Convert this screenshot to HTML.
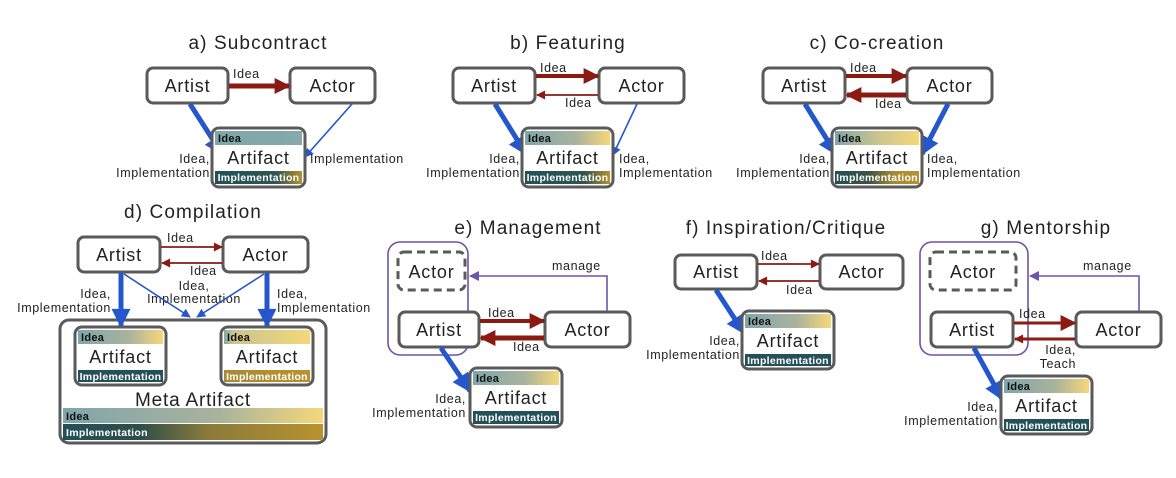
<!DOCTYPE html>
<html><head><meta charset="utf-8"><style>
html,body{margin:0;padding:0;background:#fff;}
svg{display:block;font-family:"Liberation Sans",sans-serif;}
.node{fill:#fff;stroke:#5a5a5a;stroke-width:3;}
.t{font-size:19px;fill:#222;letter-spacing:1.1px;}
.n{font-size:18px;fill:#222;text-anchor:middle;letter-spacing:0.8px;}
.s{font-size:12.5px;fill:#222;letter-spacing:0.6px;}
.ib{font-size:11px;font-weight:bold;fill:#111;letter-spacing:0.3px;}
.mb{font-size:10.5px;font-weight:bold;fill:#fff;text-anchor:middle;letter-spacing:0.3px;}
.r{stroke:#8b1a12;fill:none;}
.b{stroke:#2456cc;fill:none;}
.p{stroke:#6a55a8;fill:none;stroke-width:1.6;}
</style></head><body>
<svg width="1176" height="478" viewBox="0 0 1176 478">
<defs>
<linearGradient id="iA"><stop offset="0" stop-color="#7fa6ab"/><stop offset="1" stop-color="#86a9aa"/></linearGradient>
<linearGradient id="iB"><stop offset="0" stop-color="#7fa6ab"/><stop offset="0.6" stop-color="#a9b39c"/><stop offset="1" stop-color="#f5d77a"/></linearGradient>
<linearGradient id="iC"><stop offset="0" stop-color="#7fa6ab"/><stop offset="0.5" stop-color="#c9c48e"/><stop offset="1" stop-color="#f5d77a"/></linearGradient>
<linearGradient id="iD"><stop offset="0" stop-color="#7fa6ab"/><stop offset="0.1" stop-color="#c9c48e"/><stop offset="1" stop-color="#f5d77a"/></linearGradient>
<linearGradient id="mA"><stop offset="0" stop-color="#24505a"/><stop offset="0.7" stop-color="#2f5550"/><stop offset="1" stop-color="#b8922e"/></linearGradient>
<linearGradient id="mC"><stop offset="0" stop-color="#24505a"/><stop offset="0.4" stop-color="#3d5245"/><stop offset="0.7" stop-color="#a58a33"/><stop offset="1" stop-color="#b8922e"/></linearGradient>
<linearGradient id="mD"><stop offset="0" stop-color="#a88a35"/><stop offset="1" stop-color="#b8922e"/></linearGradient>
<linearGradient id="mM"><stop offset="0" stop-color="#24505a"/><stop offset="0.3" stop-color="#2e4e48"/><stop offset="0.55" stop-color="#8a7a3a"/><stop offset="1" stop-color="#b8922e"/></linearGradient>
<marker id="rb" viewBox="0 0 10 10" refX="9" refY="5" markerUnits="userSpaceOnUse" markerWidth="20" markerHeight="16" orient="auto"><path d="M0,0L10,5L0,10z" fill="#8b1a12"/></marker>
<marker id="rs" viewBox="0 0 10 10" refX="9" refY="5" markerUnits="userSpaceOnUse" markerWidth="11" markerHeight="9" orient="auto"><path d="M0,0L10,5L0,10z" fill="#8b1a12"/></marker>
<marker id="bb" viewBox="0 0 10 10" refX="9" refY="5" markerUnits="userSpaceOnUse" markerWidth="22" markerHeight="19" orient="auto"><path d="M0,0L10,5L0,10z" fill="#2456cc"/></marker>
<marker id="bs" viewBox="0 0 10 10" refX="9" refY="5" markerUnits="userSpaceOnUse" markerWidth="10" markerHeight="9" orient="auto"><path d="M0,0L10,5L0,10z" fill="#2456cc"/></marker>
<marker id="pm" viewBox="0 0 10 10" refX="9" refY="5" markerUnits="userSpaceOnUse" markerWidth="11" markerHeight="10" orient="auto"><path d="M0,0L10,5L0,10z" fill="#6a55a8"/></marker>
</defs>

<!-- a) -->
<text class="t" x="258" y="49" text-anchor="middle">a) Subcontract</text>
<rect class="node" x="147" y="68" width="81" height="35" rx="6"/><text class="n" x="187.5" y="92">Artist</text>
<rect class="node" x="290" y="68" width="85" height="35" rx="6"/><text class="n" x="332.5" y="92">Actor</text>
<line class="r" x1="229" y1="86" x2="289" y2="86" stroke-width="5" marker-end="url(#rb)"/>
<text class="s" x="233" y="78">Idea</text>
<line class="b" x1="190" y1="104" x2="222" y2="154" stroke-width="5" marker-end="url(#bb)"/>
<line class="b" x1="352" y1="104" x2="305" y2="157" stroke-width="1.6" marker-end="url(#bs)"/>
<text class="s" x="210" y="163" text-anchor="end">Idea,</text>
<text class="s" x="210" y="177" text-anchor="end">Implementation</text>
<text class="s" x="310" y="163">Implementation</text>
<g transform="translate(212,128)"><rect class="node" x="0" y="0" width="93" height="59" rx="7"/><rect x="3" y="3" width="87" height="14" fill="url(#iA)"/><text class="ib" x="6" y="14">Idea</text><text class="n" x="46.5" y="36">Artifact</text><rect x="3" y="43" width="87" height="13" fill="url(#mA)"/><text class="mb" x="46.5" y="53">Implementation</text></g>

<!-- b) -->
<text class="t" x="568" y="49" text-anchor="middle">b) Featuring</text>
<rect class="node" x="453" y="68" width="82" height="35" rx="6"/><text class="n" x="494" y="92">Artist</text>
<rect class="node" x="599" y="68" width="85" height="35" rx="6"/><text class="n" x="641.5" y="92">Actor</text>
<line class="r" x1="536" y1="76" x2="598" y2="76" stroke-width="4" marker-end="url(#rb)"/>
<line class="r" x1="598" y1="95" x2="537" y2="95" stroke-width="1.8" marker-end="url(#rs)"/>
<text class="s" x="540" y="72">Idea</text>
<text class="s" x="565" y="107">Idea</text>
<line class="b" x1="495" y1="104" x2="526" y2="154" stroke-width="5" marker-end="url(#bb)"/>
<line class="b" x1="637" y1="104" x2="613" y2="155" stroke-width="1.6" marker-end="url(#bs)"/>
<text class="s" x="520" y="163" text-anchor="end">Idea,</text>
<text class="s" x="520" y="177" text-anchor="end">Implementation</text>
<text class="s" x="619" y="163">Idea,</text>
<text class="s" x="619" y="177">Implementation</text>
<g transform="translate(522,128)"><rect class="node" x="0" y="0" width="91" height="59" rx="7"/><rect x="3" y="3" width="85" height="14" fill="url(#iB)"/><text class="ib" x="6" y="14">Idea</text><text class="n" x="45.5" y="36">Artifact</text><rect x="3" y="43" width="85" height="13" fill="url(#mA)"/><text class="mb" x="45.5" y="53">Implementation</text></g>

<!-- c) -->
<text class="t" x="877" y="49" text-anchor="middle">c) Co-creation</text>
<rect class="node" x="763" y="68" width="82" height="35" rx="6"/><text class="n" x="804" y="92">Artist</text>
<rect class="node" x="907" y="68" width="85" height="35" rx="6"/><text class="n" x="949.5" y="92">Actor</text>
<line class="r" x1="846" y1="76" x2="906" y2="76" stroke-width="4" marker-end="url(#rb)"/>
<line class="r" x1="906" y1="95" x2="847" y2="95" stroke-width="5" marker-end="url(#rb)"/>
<text class="s" x="850" y="72">Idea</text>
<text class="s" x="875" y="108">Idea</text>
<line class="b" x1="805" y1="104" x2="836" y2="154" stroke-width="5" marker-end="url(#bb)"/>
<line class="b" x1="948" y1="104" x2="922" y2="154" stroke-width="5" marker-end="url(#bb)"/>
<text class="s" x="830" y="163" text-anchor="end">Idea,</text>
<text class="s" x="830" y="177" text-anchor="end">Implementation</text>
<text class="s" x="927" y="163">Idea,</text>
<text class="s" x="927" y="177">Implementation</text>
<g transform="translate(832,128)"><rect class="node" x="0" y="0" width="90" height="59" rx="7"/><rect x="3" y="3" width="84" height="14" fill="url(#iC)"/><text class="ib" x="6" y="14">Idea</text><text class="n" x="45" y="36">Artifact</text><rect x="3" y="43" width="84" height="13" fill="url(#mC)"/><text class="mb" x="45" y="53">Implementation</text></g>

<!-- d) -->
<text class="t" x="193" y="218" text-anchor="middle">d) Compilation</text>
<rect class="node" x="78" y="237" width="82" height="35" rx="6"/><text class="n" x="119" y="261">Artist</text>
<rect class="node" x="223" y="237" width="85" height="35" rx="6"/><text class="n" x="265.5" y="261">Actor</text>
<line class="r" x1="161" y1="247" x2="222" y2="247" stroke-width="1.8" marker-end="url(#rs)"/>
<line class="r" x1="222" y1="263" x2="162" y2="263" stroke-width="1.8" marker-end="url(#rs)"/>
<text class="s" x="167" y="242">Idea</text>
<text class="s" x="190" y="275">Idea</text>
<text class="s" x="194" y="290" text-anchor="middle">Idea,</text>
<text class="s" x="194" y="303" text-anchor="middle">Implementation</text>
<rect class="node" x="60" y="320" width="266" height="123" rx="9" stroke-width="4"/>
<line class="b" x1="121" y1="273" x2="121" y2="326" stroke-width="5" marker-end="url(#bb)"/>
<line class="b" x1="267" y1="273" x2="267" y2="326" stroke-width="5" marker-end="url(#bb)"/>
<line class="b" x1="124" y1="274" x2="190" y2="317" stroke-width="1.6" marker-end="url(#bs)"/>
<line class="b" x1="264" y1="274" x2="197" y2="317" stroke-width="1.6" marker-end="url(#bs)"/>
<text class="s" x="111" y="298" text-anchor="end">Idea,</text>
<text class="s" x="111" y="312" text-anchor="end">Implementation</text>
<text class="s" x="277" y="298">Idea,</text>
<text class="s" x="277" y="312">Implementation</text>
<g transform="translate(75,327)"><rect class="node" x="0" y="0" width="91" height="58" rx="7"/><rect x="3" y="3" width="85" height="14" fill="url(#iB)"/><text class="ib" x="6" y="14">Idea</text><text class="n" x="45.5" y="36">Artifact</text><rect x="3" y="43" width="85" height="12" fill="#24505a"/><text class="mb" x="45.5" y="53">Implementation</text></g>
<g transform="translate(221,327)"><rect class="node" x="0" y="0" width="92" height="58" rx="7"/><rect x="3" y="3" width="86" height="14" fill="url(#iD)"/><text class="ib" x="6" y="14">Idea</text><text class="n" x="46" y="36">Artifact</text><rect x="3" y="43" width="86" height="12" fill="url(#mD)"/><text class="mb" x="46" y="53">Implementation</text></g>
<text class="n" x="193" y="406" style="font-size:19px">Meta Artifact</text>
<rect x="63" y="408" width="260" height="15" fill="url(#iB)"/><text class="ib" x="66" y="420">Idea</text>
<rect x="63" y="424" width="260" height="16" fill="url(#mM)"/><text class="mb" x="66" y="436" style="text-anchor:start">Implementation</text>

<!-- e) -->
<text class="t" x="528" y="234" text-anchor="middle">e) Management</text>
<rect x="388" y="242" width="80" height="113" rx="12" fill="none" stroke="#6a55a8" stroke-width="1.6"/>
<rect class="node" x="398" y="252" width="67" height="38" rx="6" stroke-dasharray="8,5"/><text class="n" x="431.5" y="278">Actor</text>
<rect class="node" x="399" y="312" width="80" height="35" rx="6"/><text class="n" x="439" y="336">Artist</text>
<rect class="node" x="545" y="312" width="85" height="35" rx="6"/><text class="n" x="587.5" y="336">Actor</text>
<polyline class="p" points="607,311 607,276 470,276" marker-end="url(#pm)"/>
<text class="s" x="552" y="270">manage</text>
<line class="r" x1="480" y1="321" x2="544" y2="321" stroke-width="4" marker-end="url(#rb)"/>
<line class="r" x1="544" y1="338" x2="481" y2="338" stroke-width="5" marker-end="url(#rb)"/>
<text class="s" x="488" y="317">Idea</text>
<text class="s" x="513" y="351">Idea</text>
<line class="b" x1="441" y1="348" x2="470" y2="391" stroke-width="5" marker-end="url(#bb)"/>
<text class="s" x="466" y="403" text-anchor="end">Idea,</text>
<text class="s" x="466" y="417" text-anchor="end">Implementation</text>
<g transform="translate(470,368)"><rect class="node" x="0" y="0" width="92" height="59" rx="7"/><rect x="3" y="3" width="86" height="14" fill="url(#iB)"/><text class="ib" x="6" y="14">Idea</text><text class="n" x="46" y="36">Artifact</text><rect x="3" y="43" width="86" height="13" fill="#24505a"/><text class="mb" x="46" y="53">Implementation</text></g>

<!-- f) -->
<text class="t" x="786" y="234" text-anchor="middle">f) Inspiration/Critique</text>
<rect class="node" x="675" y="255" width="82" height="34" rx="6"/><text class="n" x="716" y="278">Artist</text>
<rect class="node" x="820" y="255" width="83" height="34" rx="6"/><text class="n" x="861.5" y="278">Actor</text>
<line class="r" x1="758" y1="264" x2="819" y2="264" stroke-width="1.8" marker-end="url(#rs)"/>
<line class="r" x1="819" y1="281" x2="759" y2="281" stroke-width="1.8" marker-end="url(#rs)"/>
<text class="s" x="761" y="260">Idea</text>
<text class="s" x="786" y="294">Idea</text>
<line class="b" x1="716" y1="290" x2="744" y2="333" stroke-width="5" marker-end="url(#bb)"/>
<text class="s" x="740" y="345" text-anchor="end">Idea,</text>
<text class="s" x="740" y="359" text-anchor="end">Implementation</text>
<g transform="translate(742,311)"><rect class="node" x="0" y="0" width="92" height="58" rx="7"/><rect x="3" y="3" width="86" height="14" fill="url(#iB)"/><text class="ib" x="6" y="14">Idea</text><text class="n" x="46" y="36">Artifact</text><rect x="3" y="43" width="86" height="12" fill="#24505a"/><text class="mb" x="46" y="53">Implementation</text></g>

<!-- g) -->
<text class="t" x="1046" y="234" text-anchor="middle">g) Mentorship</text>
<rect x="920" y="242" width="108" height="113" rx="12" fill="none" stroke="#6a55a8" stroke-width="1.6"/>
<rect class="node" x="930" y="252" width="86" height="38" rx="6" stroke-dasharray="8,5"/><text class="n" x="973" y="278">Actor</text>
<rect class="node" x="931" y="312" width="82" height="35" rx="6"/><text class="n" x="972" y="336">Artist</text>
<rect class="node" x="1076" y="312" width="85" height="35" rx="6"/><text class="n" x="1118.5" y="336">Actor</text>
<polyline class="p" points="1139,311 1139,276 1030,276" marker-end="url(#pm)"/>
<text class="s" x="1083" y="270">manage</text>
<line class="r" x1="1014" y1="323" x2="1075" y2="323" stroke-width="3" marker-end="url(#rb)"/>
<line class="r" x1="1075" y1="339" x2="1015" y2="339" stroke-width="3" marker-end="url(#rs)"/>
<text class="s" x="1019" y="318">Idea</text>
<text class="s" x="1076" y="354" text-anchor="end">Idea,</text>
<text class="s" x="1076" y="368" text-anchor="end">Teach</text>
<line class="b" x1="974" y1="348" x2="1002" y2="399" stroke-width="5" marker-end="url(#bb)"/>
<text class="s" x="998" y="411" text-anchor="end">Idea,</text>
<text class="s" x="998" y="425" text-anchor="end">Implementation</text>
<g transform="translate(1001,376)"><rect class="node" x="0" y="0" width="91" height="58" rx="7"/><rect x="3" y="3" width="85" height="14" fill="url(#iB)"/><text class="ib" x="6" y="14">Idea</text><text class="n" x="45.5" y="36">Artifact</text><rect x="3" y="43" width="85" height="12" fill="#24505a"/><text class="mb" x="45.5" y="53">Implementation</text></g>
</svg>
</body></html>
